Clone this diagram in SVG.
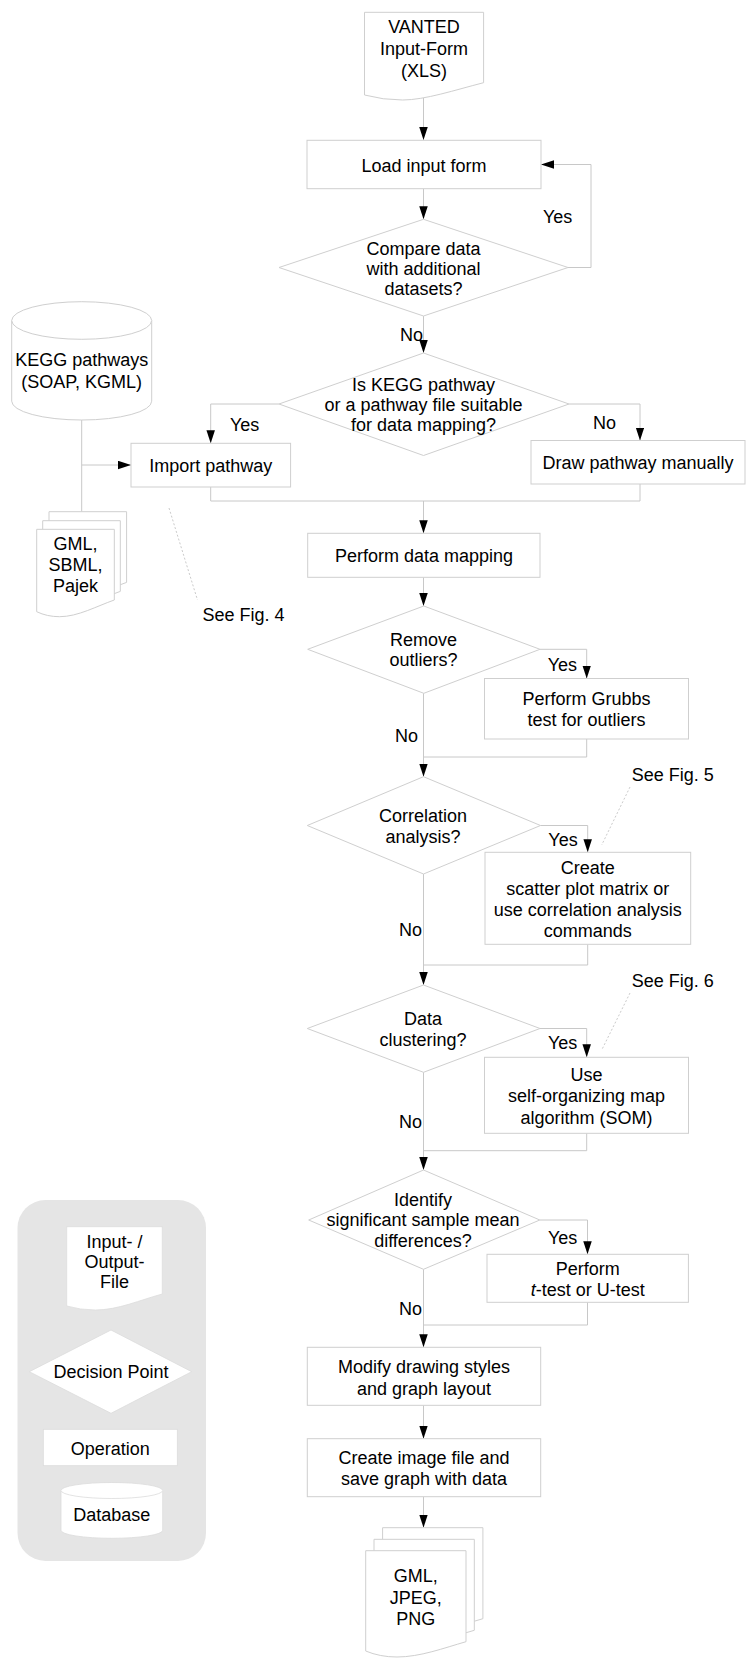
<svg xmlns="http://www.w3.org/2000/svg" width="747" height="1658" viewBox="0 0 747 1658">
<style>
  .n { fill: #ffffff; stroke: #cfcfcf; stroke-width: 1; }
  .c { fill: none; stroke: #c8c8c8; stroke-width: 1; }
  .d { fill: none; stroke: #bdbdbd; stroke-width: 0.8; stroke-dasharray: 2 2; }
  text { font-family: "Liberation Sans", Arial, sans-serif; font-size: 18px; fill: #000; }
  .m { text-anchor: middle; }
  .lg { fill: #ffffff; stroke: #dcdcdc; stroke-width: 0.8; }
</style>
<defs>
  <marker id="ah" markerUnits="userSpaceOnUse" markerWidth="14" markerHeight="10" refX="13" refY="4.25" orient="auto">
    <path d="M0,0 L13,4.25 L0,8.5 Z" fill="#000"/>
  </marker>
  <path id="gmlpage" d="M36.7,529.3 H114.3 V600 C97,606 78,616.7 59.6,616.7 Q47,616.7 36.7,611.7 Z"/>
  <path id="outpage" d="M365.7,1550.7 H466 V1641.7 C444,1648 420,1657 397,1657 Q380,1657 365.7,1651 Z"/>
</defs>
<rect width="747" height="1658" fill="#ffffff"/>

<g id="connectors">
  <path class="c" d="M423.5,98 V140" marker-end="url(#ah)"/>
  <path class="c" d="M423.5,188.7 V219.3" marker-end="url(#ah)"/>
  <path class="c" d="M568,267.5 H591 V164.5 H541" marker-end="url(#ah)"/>
  <path class="c" d="M423.5,316 V353" marker-end="url(#ah)"/>
  <path class="c" d="M279,404 H210.7 V443.3" marker-end="url(#ah)"/>
  <path class="c" d="M569,404 H640 V440.5" marker-end="url(#ah)"/>
  <path class="c" d="M210.7,487 V501 H640 V484"/>
  <path class="c" d="M423.5,501 V533.3" marker-end="url(#ah)"/>
  <path class="c" d="M81.7,420 V511.7"/>
  <path class="c" d="M81.7,465 H131" marker-end="url(#ah)"/>
  <path class="c" d="M423.5,577.3 V606" marker-end="url(#ah)"/>
  <path class="c" d="M540,649.3 H586.7 V678.5" marker-end="url(#ah)"/>
  <path class="c" d="M423.5,693.3 V776.7" marker-end="url(#ah)"/>
  <path class="c" d="M586.7,739 V757 H423.5"/>
  <path class="c" d="M540.5,825.5 H587.7 V852.3" marker-end="url(#ah)"/>
  <path class="c" d="M423.5,874 V985" marker-end="url(#ah)"/>
  <path class="c" d="M587.7,944.3 V965 H423.5"/>
  <path class="c" d="M540,1028.5 H586.7 V1057.3" marker-end="url(#ah)"/>
  <path class="c" d="M423.5,1072.3 V1170" marker-end="url(#ah)"/>
  <path class="c" d="M586.7,1133.3 V1150.7 H423.5"/>
  <path class="c" d="M539.8,1220 H587.5 V1254.3" marker-end="url(#ah)"/>
  <path class="c" d="M423.5,1269.3 V1347.3" marker-end="url(#ah)"/>
  <path class="c" d="M587.5,1302.3 V1325 H423.5"/>
  <path class="c" d="M423.5,1405.3 V1438.7" marker-end="url(#ah)"/>
  <path class="c" d="M423.5,1496.7 V1527.7" marker-end="url(#ah)"/>
  <path class="d" d="M169,508 L197.5,600"/>
  <path class="d" d="M630,787 L601.7,845"/>
  <path class="d" d="M630,993 L601.7,1050"/>
  <text x="543" y="223">Yes</text>
  <text x="400" y="341.4">No</text>
  <text x="230" y="430.7">Yes</text>
  <text x="593" y="429">No</text>
  <text x="547.7" y="670.7">Yes</text>
  <text x="395" y="742">No</text>
  <text x="548.3" y="845.7">Yes</text>
  <text x="399" y="936.4">No</text>
  <text x="548" y="1049.4">Yes</text>
  <text x="399" y="1128">No</text>
  <text x="548" y="1243.7">Yes</text>
  <text x="399" y="1315">No</text>
  <text x="202.5" y="621.4">See Fig. 4</text>
  <text x="631.7" y="781.4">See Fig. 5</text>
  <text x="631.7" y="987">See Fig. 6</text>
</g>

<g id="vanted-input">
  <path class="n" d="M364.5,12.3 H483.6 V82.7 C455,90 425,100 402.6,100 Q383,100 364.5,95 Z"/>
  <text class="m" x="424" y="33">VANTED</text>
  <text class="m" x="424" y="55.4">Input-Form</text>
  <text class="m" x="424" y="77.4">(XLS)</text>
</g>
<g id="load-input">
  <rect class="n" x="307" y="140.3" width="234" height="48.4"/>
  <text class="m" x="424" y="172">Load input form</text>
</g>
<g id="compare-data">
  <polygon class="n" points="423.5,219.3 568,267.5 423.5,316 279,267.5"/>
  <text class="m" x="423.5" y="254.6">Compare data</text>
  <text class="m" x="423.5" y="274.6">with additional</text>
  <text class="m" x="423.5" y="294.6">datasets?</text>
</g>
<g id="kegg-db">
  <path class="n" d="M11.7,320.5 A70,18.8 0 0 1 151.7,320.5 V401.2 A70,18.8 0 0 1 11.7,401.2 Z"/>
  <path class="n" d="M11.7,320.5 A70,18.8 0 0 0 151.7,320.5" fill="none"/>
  <text class="m" x="81.7" y="366.4">KEGG pathways</text>
  <text class="m" x="81.7" y="388">(SOAP, KGML)</text>
</g>
<g id="is-kegg">
  <polygon class="n" points="423.5,353 569,404 423.5,455.5 279,404"/>
  <text class="m" x="423.5" y="391.4">Is KEGG pathway</text>
  <text class="m" x="423.5" y="411.4">or a pathway file suitable</text>
  <text class="m" x="423.5" y="431.4">for data mapping?</text>
</g>
<g id="import-pathway">
  <rect class="n" x="131" y="443.3" width="159.6" height="43.7"/>
  <text class="m" x="210.8" y="472.2">Import pathway</text>
</g>
<g id="draw-pathway">
  <rect class="n" x="531" y="440.5" width="214" height="43.5"/>
  <text class="m" x="638" y="469">Draw pathway manually</text>
</g>
<g id="gml-files">
  <use href="#gmlpage" class="n" transform="translate(12.3,-17.6)"/>
  <use href="#gmlpage" class="n" transform="translate(6,-8.6)"/>
  <use href="#gmlpage" class="n"/>
  <text class="m" x="75.5" y="549.7">GML,</text>
  <text class="m" x="75.5" y="571.4">SBML,</text>
  <text class="m" x="75.5" y="592.4">Pajek</text>
</g>
<g id="perform-mapping">
  <rect class="n" x="307.7" y="533.3" width="232.3" height="44"/>
  <text class="m" x="424" y="562.4">Perform data mapping</text>
</g>
<g id="remove-outliers">
  <polygon class="n" points="423.8,606 540,649.3 423.8,693.3 307.7,649.3"/>
  <text class="m" x="423.5" y="645.7">Remove</text>
  <text class="m" x="423.5" y="666.4">outliers?</text>
</g>
<g id="grubbs">
  <rect class="n" x="484.5" y="678.5" width="204" height="60.5"/>
  <text class="m" x="586.5" y="705.4">Perform Grubbs</text>
  <text class="m" x="586.5" y="725.7">test for outliers</text>
</g>
<g id="correlation">
  <polygon class="n" points="423.5,776.7 540.5,825.5 423.5,874 307.3,825.5"/>
  <text class="m" x="423" y="822">Correlation</text>
  <text class="m" x="423" y="843">analysis?</text>
</g>
<g id="scatter">
  <rect class="n" x="485" y="852.3" width="205.7" height="92"/>
  <text class="m" x="587.7" y="874">Create</text>
  <text class="m" x="587.7" y="895">scatter plot matrix or</text>
  <text class="m" x="587.7" y="916">use correlation analysis</text>
  <text class="m" x="587.7" y="937">commands</text>
</g>
<g id="clustering">
  <polygon class="n" points="423.5,985 540,1028.5 423.5,1072.3 307.3,1028.5"/>
  <text class="m" x="423" y="1025">Data</text>
  <text class="m" x="423" y="1045.7">clustering?</text>
</g>
<g id="som">
  <rect class="n" x="484.5" y="1057.3" width="204" height="76"/>
  <text class="m" x="586.5" y="1080.7">Use</text>
  <text class="m" x="586.5" y="1102.3">self-organizing map</text>
  <text class="m" x="586.5" y="1123.7">algorithm (SOM)</text>
</g>
<g id="identify">
  <polygon class="n" points="423.5,1170 539.8,1220 423.5,1269.3 308.7,1220"/>
  <text class="m" x="423" y="1205.7">Identify</text>
  <text class="m" x="423" y="1226.4">significant sample mean</text>
  <text class="m" x="423" y="1247">differences?</text>
</g>
<g id="ttest">
  <rect class="n" x="487" y="1254.3" width="201.4" height="48"/>
  <text class="m" x="587.7" y="1275.4">Perform</text>
  <text class="m" x="587.7" y="1295.7"><tspan font-style="italic">t</tspan>-test or U-test</text>
</g>
<g id="modify">
  <rect class="n" x="307.3" y="1347.3" width="233.4" height="58"/>
  <text class="m" x="424" y="1373">Modify drawing styles</text>
  <text class="m" x="424" y="1394.7">and graph layout</text>
</g>
<g id="create-image">
  <rect class="n" x="307.3" y="1438.7" width="233.4" height="58"/>
  <text class="m" x="424" y="1463.7">Create image file and</text>
  <text class="m" x="424" y="1485.4">save graph with data</text>
</g>
<g id="output-files">
  <use href="#outpage" class="n" transform="translate(16.9,-23)"/>
  <use href="#outpage" class="n" transform="translate(8.3,-11.4)"/>
  <use href="#outpage" class="n"/>
  <text class="m" x="415.7" y="1582">GML,</text>
  <text class="m" x="415.7" y="1603.7">JPEG,</text>
  <text class="m" x="415.7" y="1624.7">PNG</text>
</g>
<g id="legend">
  <rect x="17.5" y="1200" width="188.5" height="361" rx="28" ry="28" fill="#e5e5e5"/>
  <path class="lg" d="M66.7,1226.7 H162.3 V1294 C140,1300 118,1310 95.4,1310 Q80,1310 66.7,1306 Z"/>
  <text class="m" x="114.5" y="1248">Input- /</text>
  <text class="m" x="114.5" y="1268">Output-</text>
  <text class="m" x="114.5" y="1288">File</text>
  <polygon class="lg" points="111,1330 191.7,1371.7 111,1413.3 29.3,1371.7"/>
  <text class="m" x="111" y="1378">Decision Point</text>
  <rect class="lg" x="43.3" y="1429.3" width="134" height="36.4"/>
  <text class="m" x="110.3" y="1454.6">Operation</text>
  <path class="lg" d="M61,1490.5 A50.85,8 0 0 1 162.7,1490.5 V1530.3 A50.85,8 0 0 1 61,1530.3 Z"/>
  <path class="lg" d="M61,1490.5 A50.85,8 0 0 0 162.7,1490.5" fill="none"/>
  <text class="m" x="111.7" y="1521.4">Database</text>
</g>
</svg>
